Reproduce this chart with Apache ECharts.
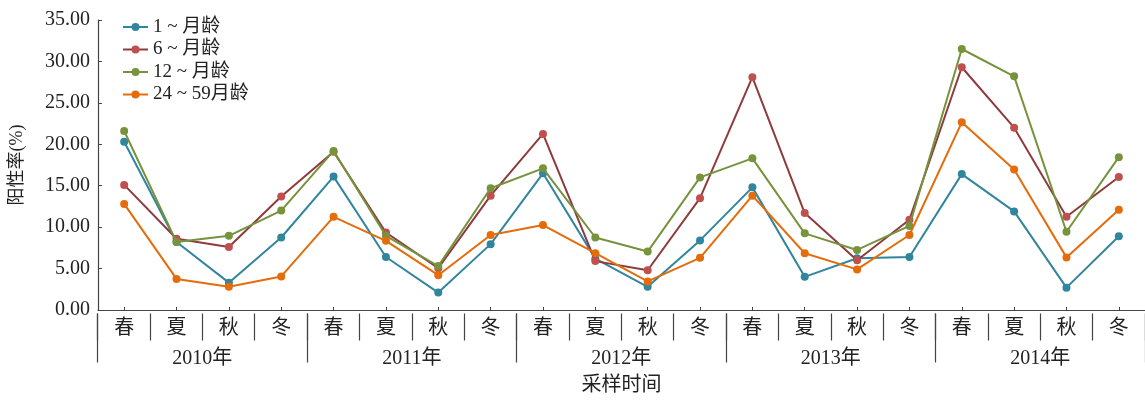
<!DOCTYPE html>
<html>
<head>
<meta charset="utf-8">
<script src="https://cdn.jsdelivr.net/npm/echarts@6/dist/echarts.min.js"></script>
<style>html,body{margin:0;padding:0;background:#fff;overflow:hidden;}#c{position:absolute;left:0;top:0;width:1145px;height:401px;}</style>
</head>
<body>
<div id="c"></div>
<script>
const seasons = ['春','夏','秋','冬','春','夏','秋','冬','春','夏','秋','冬','春','夏','秋','冬','春','夏','秋','冬'];
const years = ['2010年','2011年','2012年','2013年','2014年'];
const seriesNames = ['1 ~ 月龄','6 ~ 月龄','12 ~ 月龄','24 ~ 59月龄'];
const s1 = [20.3, 8.2, 3.3, 8.75, 16.1, 6.4, 2.1, 7.95, 16.5, 6.2, 2.8, 8.4, 14.8, 4.0, 6.25, 6.4, 16.4, 11.9, 2.7, 8.9];
const s6 = [15.1, 8.6, 7.6, 13.7, 19.1, 9.35, 5.05, 13.8, 21.25, 5.9, 4.8, 13.5, 28.1, 11.7, 6.0, 10.9, 29.3, 22.0, 11.25, 16.05];
const s12 = [21.6, 8.2, 8.95, 12.0, 19.2, 8.95, 5.3, 14.7, 17.1, 8.75, 7.05, 16.0, 18.3, 9.25, 7.25, 10.15, 31.5, 28.2, 9.45, 18.45];
const s24 = [12.8, 3.75, 2.8, 4.05, 11.25, 8.35, 4.2, 9.05, 10.25, 6.85, 3.45, 6.3, 13.8, 6.85, 4.9, 9.05, 22.65, 16.95, 6.35, 12.1];

const FONT = "'Liberation Serif', 'Noto Sans CJK SC', serif";
const TXT = '#222';
const AX = '#444';
const lineColors = ['#31859C', '#8E3B3D', '#76923C', '#E46C0A'];
const dotColors = ['#31859C', '#C0504D', '#77933C', '#E46C0A'];
const values = [s1, s6, s12, s24];

const gridRect = { left: 97.6, width: 1056.8, top: 20, height: 293.5, containLabel: false };

const chart = echarts.init(document.getElementById('c'), null, { renderer: 'canvas', width: 1145, height: 401 });
chart.setOption({
  animation: false,
  backgroundColor: '#fff',
  textStyle: { fontFamily: FONT, color: TXT },
  grid: [Object.assign({}, gridRect), Object.assign({}, gridRect), Object.assign({}, gridRect)],
  legend: {
    orient: 'vertical', left: 122, top: 17, padding: 0,
    itemWidth: 25, itemHeight: 10, itemGap: 2.5,
    textStyle: { fontFamily: FONT, fontSize: 19, color: TXT, lineHeight: 20 },
    data: seriesNames
  },
  xAxis: [
    {
      type: 'category', gridIndex: 0, data: seasons, boundaryGap: true,
      axisLine: { show: true, lineStyle: { color: AX, width: 1.2 } },
      axisTick: { show: true, inside: true, alignWithLabel: true, length: 3, lineStyle: { color: AX } },
      axisLabel: { margin: 9, fontSize: 20, color: TXT, fontFamily: FONT, interval: 0 },
      name: '采样时间', nameLocation: 'middle', nameGap: 66,
      nameTextStyle: { fontSize: 20, color: TXT, fontFamily: FONT }
    },
    {
      type: 'category', gridIndex: 1, data: seasons, boundaryGap: true,
      axisLine: { show: false },
      axisTick: { show: true, interval: 0, length: 27, lineStyle: { color: AX, width: 1.2 } },
      axisLabel: { show: false }
    },
    {
      type: 'category', gridIndex: 2, data: years, boundaryGap: true,
      axisLine: { show: false },
      axisTick: { show: true, interval: 0, length: 49, lineStyle: { color: AX, width: 1.2 } },
      axisLabel: { margin: 35, fontSize: 20, color: TXT, fontFamily: FONT, interval: 0 }
    }
  ],
  yAxis: [
    {
      type: 'value', gridIndex: 0, min: 0, max: 35, interval: 5,
      axisLine: { show: true, lineStyle: { color: AX, width: 1.2 } },
      axisTick: { show: true, inside: true, length: 4, lineStyle: { color: AX } },
      splitLine: { show: false },
      axisLabel: { margin: 8, fontSize: 20, color: TXT, fontFamily: FONT, formatter: v => v.toFixed(2) },
      name: '阳性率(%)', nameLocation: 'middle', nameGap: 72, nameRotate: 90,
      nameTextStyle: { fontSize: 18, color: TXT, fontFamily: FONT }
    },
    { type: 'value', gridIndex: 1, show: false, min: 0, max: 35 },
    { type: 'value', gridIndex: 2, show: false, min: 0, max: 35 }
  ],
  series: values.map((v, i) => ({
    name: seriesNames[i], type: 'line', xAxisIndex: 0, yAxisIndex: 0,
    data: v, symbol: 'circle', symbolSize: 8,
    lineStyle: { color: lineColors[i], width: 2 },
    itemStyle: { color: dotColors[i] },
    z: 2 + i
  }))
});
</script>
</body>
</html>
